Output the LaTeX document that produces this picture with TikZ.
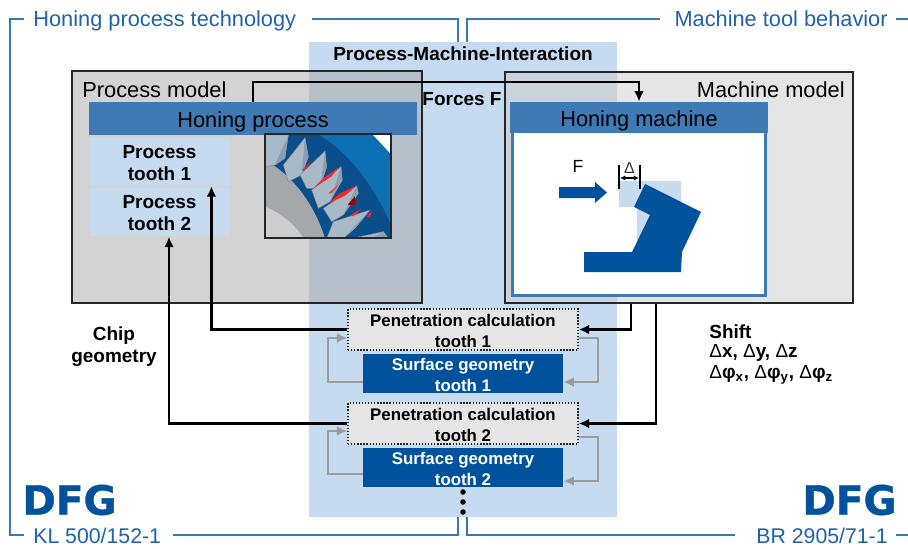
\documentclass[tikz,border=0pt]{standalone}
\usepackage{fontspec}
\setmainfont{Liberation Sans}
\newfontfamily\dfgfont{DejaVu Sans}[BoldFeatures={FakeBold=1}]
\usetikzlibrary{arrows.meta}
\definecolor{framec}{HTML}{3A78B5}
\definecolor{framet}{HTML}{1F62A8}
\definecolor{lightb}{HTML}{C6DAF0}
\definecolor{headb}{HTML}{3F7AB5}
\definecolor{darkb}{HTML}{00529C}
\definecolor{grayarrow}{HTML}{9C9C9C}
\definecolor{gearring}{RGB}{12,112,180}
\definecolor{geardark}{RGB}{11,78,140}
\definecolor{gearband}{RGB}{165,168,170}
\definecolor{geardisc}{RGB}{205,205,205}
\definecolor{geartooth}{RGB}{168,186,200}
\definecolor{gearfacet}{RGB}{136,160,178}
\newcommand{\lrg}{\fontsize{12.4}{14}\selectfont}
\newcommand{\bld}{\fontsize{10.8}{12.6}\selectfont\bfseries}
\newcommand{\sml}{\fontsize{9.6}{12}\selectfont\bfseries}
\newcommand{\lowr}{\rule{0pt}{8.8pt}}
\tikzset{
  modelbox/.style = {draw=black!85,line width=0.9pt,fill opacity=.5,text opacity=1,inner sep=0},
  header/.style = {fill=headb,inner sep=0,font=\lrg,execute at begin node=\rule{0pt}{12.4pt}},
  toothbox/.style = {fill=lightb,inner sep=0,align=center,font=\bld,minimum width=2.78cm,minimum height=0.97cm},
  penbox/.style = {draw=black!85,densely dotted,line width=0.75pt,fill=black!10,inner sep=0,align=center,font=\sml,minimum width=4.6cm,minimum height=0.82cm},
  surfbox/.style = {fill=darkb,text=white,inner sep=0,align=center,font=\sml,minimum width=4cm,minimum height=0.78cm},
  bracket/.style = {draw=framec,line width=0.9pt},
  frametext/.style = {text=framet,inner sep=0,font=\lrg},
  blackarrow/.style = {draw=black,line width=1.25pt,-{Latex[length=6pt,width=5.5pt]}},
  grayline/.style = {draw=grayarrow,line width=1.25pt,-{Latex[length=6pt,width=5.5pt]}},
  logo/.style = {text=darkb,inner sep=0,font=\dfgfont\fontsize{23}{23}\selectfont\bfseries},
  redstreak/.style = {fill=red!85!white}
}
\begin{document}
\begin{tikzpicture}[x=0.02cm,y=-0.02cm]
\useasboundingbox (0,0) rectangle (908,548);
% interaction band behind everything
\node[fill=lightb,inner sep=0,minimum width=6.16cm,minimum height=9.5cm] (band) at (463,279.5) {};
\node[font=\bld] (interaction) at (463,54) {Process-Machine-Interaction};
% brackets and their titles
\node[frametext,anchor=base west] (title1) at (33,26) {Honing process technology};
\node[frametext,anchor=base east] (title2) at (888,26) {Machine tool behavior};
\node[frametext,anchor=base west,font=\fontsize{12.1}{14}\selectfont] (code1) at (33,543) {KL 500/152-1};
\node[frametext,anchor=base east,font=\fontsize{12.1}{14}\selectfont] (code2) at (888,543) {BR 2905/71-1};
\draw[bracket] (24,19) -- (10,19) -- (10,535) -- (24,535);
\draw[bracket] (312,19) -- (458,19) -- (458,42);
\draw[bracket] (467,42) -- (467,19) -- (660,19);
\draw[bracket] (896,19) -- (908,19);
\draw[bracket] (173,535) -- (458,535) -- (458,517);
\draw[bracket] (467,517) -- (467,535) -- (735,535);
\draw[bracket] (896,535) -- (908,535);
\node[logo,anchor=west] (dfg1) at (22,500) {DFG};
\node[logo,anchor=east] (dfg2) at (897,500) {DFG};
% process model on the left
\node[modelbox,fill=black!34,minimum width=7cm,minimum height=4.64cm] (processmodel) at (247,187) {};
\node[anchor=west,inner sep=0,font=\lrg] (processlabel) at (82,90) {Process model};
\node[header,minimum width=6.56cm,minimum height=0.66cm] (honingprocess) at (253,118.5) {Honing process};
\node[toothbox] (tooth1) at (159.5,161.5) {\lowr Process\\tooth 1};
\node[toothbox] (tooth2) at (159.5,212) {\lowr Process\\tooth 2};
% gear picture
\begin{scope}
\clip (265,134) rectangle (391,238);
\fill[white] (265,134) rectangle (391,238);
\begin{scope}[shift={(255,125)},scale=0.3333]
\fill[gearring] (180,28) -- (352,28) -- (408,88) -- (408,340) -- (180,340) -- cycle;
\fill[geardark] (30,28) -- (190,28) .. controls (290,90) and (360,190) .. (408,300) -- (408,340) -- (30,340) -- cycle;
\fill[gearband] (30,105) .. controls (110,150) and (175,230) .. (210,340) -- (30,340) -- cycle;
\fill[geardisc] (30,245) .. controls (80,265) and (120,300) .. (146,340) -- (30,340) -- cycle;
\foreach \pa/\pb/\pc/\pd/\pe in {
  {30,30}/{100,30}/{90,100}/{60,120}/{30,125},
  {85,120}/{150,38}/{160,95}/{140,150}/{100,170},
  {135,150}/{210,78}/{215,125}/{195,190}/{155,190},
  {170,195}/{258,125}/{262,165}/{225,230}/{190,250},
  {205,250}/{305,182}/{310,205}/{265,270}/{230,290},
  {235,290}/{345,255}/{300,310}/{265,340}/{215,340},
  {290,340}/{385,320}/{400,340}/{340,345}/{300,345}}
{
  \fill[geartooth,draw=black!50,line width=0.2pt] (\pa) -- (\pb) -- (\pc) -- (\pd) -- (\pe) -- cycle;
  \fill[gearfacet] (\pb) -- (\pc) -- (\pd) -- cycle;
}
\fill[redstreak] (140,135) -- (170,108) -- (148,135) -- cycle;
\fill[redstreak] (175,190) -- (205,160) -- (255,125) -- (228,155) -- cycle;
\fill[redstreak] (220,205) -- (250,180) -- (228,205) -- cycle;
\fill[redstreak] (220,235) -- (255,205) -- (305,182) -- (270,212) -- cycle;
\fill[red!60!black] (278,240) -- (300,213) -- (300,240) -- cycle;
\fill[redstreak] (285,272) -- (320,250) -- (295,274) -- cycle;
\fill[redstreak] (335,275) -- (350,258) -- (345,277) -- cycle;
\end{scope}
\end{scope}
\node[draw=black!85,line width=1pt,inner sep=0,minimum width=2.52cm,minimum height=2.08cm] (gearpic) at (328,186) {};
% machine model on the right
\node[modelbox,fill=black!20,minimum width=6.96cm,minimum height=4.62cm] (machinemodel) at (679,187.5) {};
\node[anchor=east,inner sep=0,font=\lrg] (machinelabel) at (845,90) {Machine model};
\node[draw=headb,line width=1.6pt,fill=white,inner sep=0,minimum width=5.06cm,minimum height=3.3cm] (machinebody) at (639,213) {};
\node[header,minimum width=5.16cm,minimum height=0.62cm] (honingmachine) at (639,117.5) {Honing machine};
% sketch of the machine
\fill[lightb] (619,181) -- (681,181) -- (681,220) -- (637,240) -- (637,207) -- (619,207) -- cycle;
\fill[darkb] (645,184) -- (701,212) -- (682,252) -- (681,272) -- (584,272) -- (584,252) -- (632,252) -- (650,215) -- (634,207) -- cycle;
\fill[darkb] (559,187) -- (595,187) -- (595,182) -- (607,192.5) -- (595,203) -- (595,198) -- (559,198) -- cycle;
\node[inner sep=0,font=\fontsize{10}{12}\selectfont] (forcelabel) at (578,166) {F};
\node[inner sep=0,font=\fontsize{9}{10}\selectfont,text=black!80] (deltalabel) at (629.5,168) {Δ};
\draw[line width=0.9pt] (619,165) -- (619,189);
\draw[line width=0.9pt] (640,165) -- (640,189);
\draw[line width=0.6pt,{Latex[length=3pt,width=3pt]}-{Latex[length=3pt,width=3pt]}] (620,178) -- (639,178);
% calculation blocks
\node[penbox] (pen1) at (463,329.5) {\lowr Penetration calculation\\tooth 1};
\node[surfbox] (surf1) at (463,373.5) {\lowr Surface geometry\\tooth 1};
\node[penbox] (pen2) at (463,423.5) {\lowr Penetration calculation\\tooth 2};
\node[surfbox] (surf2) at (463,467) {\lowr Surface geometry\\tooth 2};
\foreach \dy [count=\i] in {492,502,512}
  \node[circle,fill=black,inner sep=0,minimum size=0.11cm] (dot\i) at (463,\dy) {};
% forces from process to machine
\draw[blackarrow] (honingprocess.north) -- ++(0,-20) -| (honingmachine.north);
\node[font=\bld,inner sep=0] (forces) at (462,99) {Forces F};
% connectors between blocks and models
\draw[blackarrow] (pen1.west) -| ([xshift=-10.2pt]tooth1.south east);
\draw[blackarrow] (pen2.west) -| ([xshift=5.4pt]tooth2.south);
\draw[blackarrow] ([xshift=72pt]machinemodel.south west) |- (pen1.east);
\draw[blackarrow] ([xshift=86.2pt]machinemodel.south west) |- (pen2.east);
% feedback loops
\draw[grayline] (surf1.west |- 0,382) -- (328,382) -- (328,338) -- (pen1.west |- 0,338);
\draw[grayline] (pen1.east |- 0,338) -- (598,338) -- (598,382) -- (surf1.east |- 0,382);
\draw[grayline] (surf2.west |- 0,474) -- (328,474) -- (328,431) -- (pen2.west |- 0,431);
\draw[grayline] (pen2.east |- 0,437) -- (598,437) -- (598,481) -- (surf2.east |- 0,481);
% side labels
\node[font=\bld,align=center,inner sep=0] (chip) at (114,347) {Chip\\geometry};
\node[font=\bld,anchor=west,inner sep=0] (shift) at (709,332) {Shift};
\node[font=\bld,anchor=west,inner sep=0] (shiftxyz) at (709,353) {{\mdseries Δ}x, {\mdseries Δ}y, {\mdseries Δ}z};
\node[font=\bld,anchor=west,inner sep=0] (shiftphi) at (709,375) {{\mdseries Δ}φ\textsubscript{x}, {\mdseries Δ}φ\textsubscript{y}, {\mdseries Δ}φ\textsubscript{z}};
\end{tikzpicture}
\end{document}
